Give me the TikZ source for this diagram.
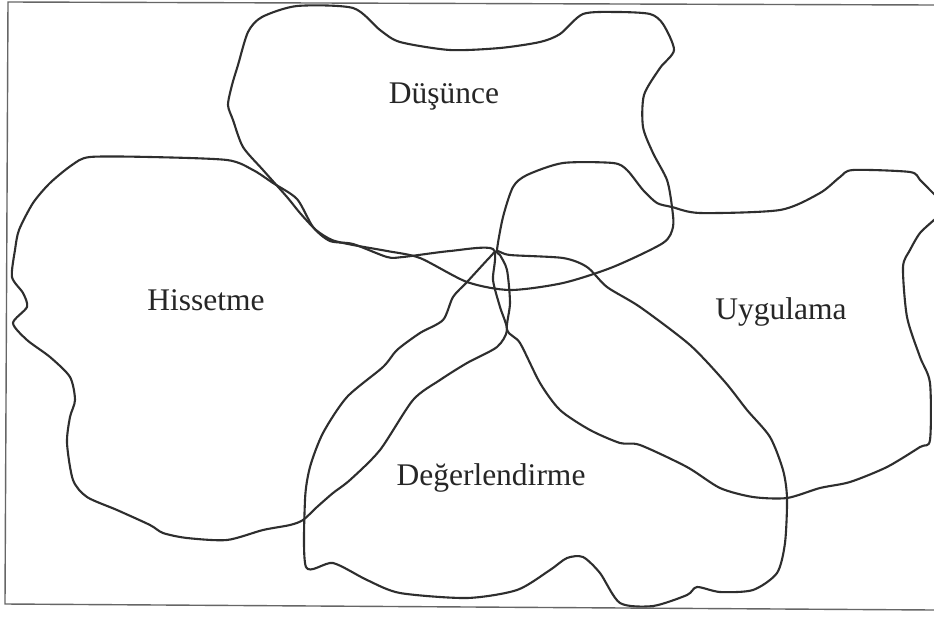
\documentclass[tikz,border=0pt]{standalone}
\usepackage{fontspec}
\setmainfont{Liberation Serif}
\tikzset{
  blob/.style={draw=black!82, line width=2.1pt, line join=round},
  frameline/.style={draw=black!60, line width=1.4pt},
  lbl/.style={font=\fontsize{31.5}{34}\selectfont, text=black!85, inner sep=0pt}
}
\begin{document}
\begin{tikzpicture}[x=1pt,y=-1pt]
\useasboundingbox (0,0) rectangle (934,616);
\fill[white] (0,0) rectangle (934,616);
\begin{scope}
\clip (0,0) rectangle (934,616);
% Dusunce
\draw[blob] plot[smooth cycle, tension=0.45] coordinates {
 (287,197) (263,170) (243,147) (233,120) (228,105) (232,85) (238,65) (248,32) (262,17) (297,6)
 (353,8) (380,30) (400,42) (450,50) (500,48) (540,42) (560,34) (583,14) (617,12) (650,14)
 (663,24) (674,50) (660,68) (644,95) (643,127) (653,153) (667,180) (672,207) (673,227)
 (663,243) (613,267) (563,283) (510,290) (467,282) (420,258) (387,251) (353,245) (332,240)
 (316,230) (300,213)};
% Hissetme
\draw[blob] plot[smooth cycle, tension=0.45] coordinates {
 (90,157) (150,157) (227,160) (253,170) (273,183) (297,199) (313,227) (330,241) (353,244)
 (387,257) (403,257) (450,251) (493,249) (493,280) (500,307) (507,330) (497,347) (467,363)
 (440,380) (413,400) (380,450) (350,480) (333,493) (317,507) (303,520) (290,525) (263,530)
 (227,540) (187,538) (163,533) (150,525) (117,510) (87,497) (73,480) (67,443) (70,417)
 (75,400) (70,377) (50,357) (27,340) (13,323) (27,307) (23,293) (12,277) (15,250) (19,230)
 (33,203) (50,183) (72,165)};
% Uygulama
\draw[blob] plot[smooth cycle, tension=0.45] coordinates {
 (497,250) (503,217) (513,187) (527,175) (563,163) (613,163) (627,170) (643,190) (657,203)
 (672,207) (700,213) (780,210) (820,193) (840,177) (853,170) (910,172) (920,180) (933,193)
 (948,207) (934,220) (920,233) (910,250) (903,267) (907,317) (920,357) (930,383) (930,440)
 (920,447) (887,467) (850,482) (820,488) (787,498) (753,497) (720,488) (687,467) (640,445)
 (620,443) (590,430) (560,410) (540,383) (520,343) (507,330) (510,303) (507,270) (500,255)};
% Degerlendirme
\draw[blob] plot[smooth cycle, tension=0.45] coordinates {
 (497,251) (510,255) (563,258) (587,267) (607,287) (640,307) (690,345) (725,382) (747,410)
 (770,437) (783,470) (787,498) (785,543) (777,573) (753,590) (720,592) (697,587) (687,595)
 (653,606) (620,603) (600,573) (583,557) (567,558) (550,570) (517,590) (467,598) (400,593)
 (367,580) (333,563) (306,567) (305,500) (310,467) (323,433) (347,397) (383,367) (397,350)
 (420,333) (443,320) (453,297) (467,282) (490,257)};
\end{scope}
% frame
\coordinate (tl) at (8,2);
\coordinate (tr) at (934,5);
\coordinate (bl) at (5,604);
\coordinate (br) at (934,610);
\draw[frameline] (tr) -- (tl) -- (bl) -- (br);
% labels
\node[lbl] (dus) at (444,97) {Düşünce};
\node[lbl] (his) at (206,300) {Hissetme};
\node[lbl] (uyg) at (781,312) {Uygulama};
\node[lbl] (deg) at (491,478) {Değerlendirme};
\end{tikzpicture}
\end{document}
